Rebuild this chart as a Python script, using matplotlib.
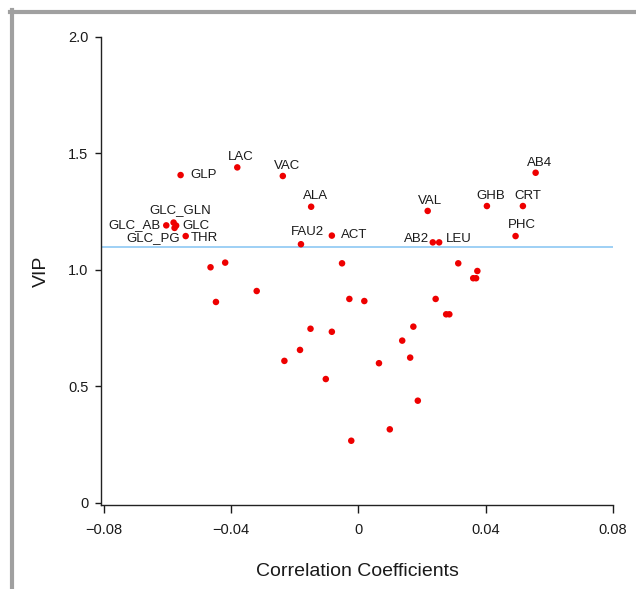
import matplotlib
matplotlib.use("Agg")
import matplotlib.pyplot as plt
from matplotlib.lines import Line2D

plt.rcParams['font.family'] = ['Liberation Sans', 'DejaVu Sans']

# Labeled metabolites
labels = ["GLP", "LAC", "VAC", "ALA", "FAU2", "ACT", "VAL", "AB2", "LEU", "AB4",
          "GHB", "CRT", "PHC", "GLC_AB", "GLC_GLN", "GLC", "GLC_PG", "THR"]
label_corr = [-0.0558, -0.0380, -0.0237, -0.0148, -0.0180, -0.0083, 0.0218, 0.0234, 0.0254, 0.0557,
              0.0404, 0.0517, 0.0494, -0.0603, -0.0580, -0.0572, -0.0577, -0.0542]
label_vip = [1.407, 1.440, 1.403, 1.271, 1.110, 1.147, 1.253, 1.118, 1.118, 1.417,
             1.274, 1.274, 1.145, 1.191, 1.203, 1.190, 1.180, 1.145]

# Unlabeled metabolites
other_corr = [-0.0464, -0.0418, -0.0447, -0.0319, -0.0051, -0.0028, 0.0019, 0.0314, 0.0374,
              0.0361, 0.0370, 0.0243, 0.0276, 0.0286, 0.0173, 0.0138, 0.0163, 0.0065,
              -0.0150, -0.0083, -0.0183, -0.0232, -0.0102, 0.0187, 0.0099, -0.0022]
other_vip = [1.011, 1.031, 0.862, 0.909, 1.028, 0.875, 0.866, 1.028, 0.995,
             0.964, 0.964, 0.875, 0.809, 0.809, 0.756, 0.696, 0.623, 0.599,
             0.747, 0.734, 0.656, 0.609, 0.531, 0.438, 0.315, 0.266]

threshold = 1.1

x_ticks = [-0.08, -0.04, 0, 0.04, 0.08]
x_ticklabels = ["\u22120.08", "\u22120.04", "0", "0.04", "0.08"]
y_ticks = [0, 0.5, 1.0, 1.5, 2.0]
y_ticklabels = ["0", "0.5", "1.0", "1.5", "2.0"]

# label offsets in pixels (dx, dy, ha)
offsets = {
    "GLP": (10, 0, "left"), "LAC": (3, 10, "center"), "VAC": (4, 10, "center"),
    "ALA": (4, 11, "center"), "FAU2": (6, 12, "center"), "ACT": (9, 1, "left"),
    "VAL": (2, 10, "center"), "AB2": (-4, 3, "right"), "LEU": (7, 3, "left"),
    "AB4": (4, 10, "center"), "GHB": (4, 10, "center"), "CRT": (5, 10, "center"),
    "PHC": (6, 11, "center"), "GLC_AB": (-6, 0, "right"), "GLC_GLN": (7, 12.5, "center"),
    "GLC": (6, 0, "left"), "GLC_PG": (5, -10, "right"), "THR": (5, -2, "left"),
}

W, H = 636, 589
fig = plt.figure(figsize=(W / 100, H / 100), dpi=100)
ax = fig.add_axes([101 / W, 1 - 505 / H, (613 - 101) / W, (505 - 37) / H])

ax.axhline(threshold, color="#96cdf5", lw=1.3, zorder=1)
ax.scatter(other_corr, other_vip, s=22, color="#ee0000", edgecolors="none", zorder=3)
ax.scatter(label_corr, label_vip, s=22, color="#ee0000", edgecolors="none", zorder=3)

for name, xv, yv in zip(labels, label_corr, label_vip):
    dx, dy, ha = offsets[name]
    ax.annotate(name, (xv, yv), xytext=(dx, dy), textcoords="offset pixels",
                ha=ha, va="center", fontsize=9.5, color="#1a1a1a")

ax.set_xlim(-0.0808, 0.08)
ax.set_ylim(-0.01, 2.0)
ax.set_xticks(x_ticks)
ax.set_xticklabels(x_ticklabels, fontsize=10.5)
ax.set_yticks(y_ticks)
ax.set_yticklabels(y_ticklabels, fontsize=10.5)
ax.tick_params(axis="x", length=6, width=1, pad=7, colors="#1a1a1a")
ax.tick_params(axis="y", length=4, width=1, pad=5, colors="#1a1a1a")
for s in ["top", "right"]:
    ax.spines[s].set_visible(False)
for s in ["left", "bottom"]:
    ax.spines[s].set_linewidth(1)
    ax.spines[s].set_color("#222222")

ax.set_xlabel("Correlation Coefficients", fontsize=14, labelpad=19, color="#1a1a1a")
ax.set_ylabel("VIP", fontsize=14, labelpad=13, color="#1a1a1a")

# gray frame at left and top
fig.add_artist(Line2D([11.5 / W, 11.5 / W], [0, 1 - 10 / H], transform=fig.transFigure,
                      color="#a0a0a0", lw=3))
fig.add_artist(Line2D([10 / W, 1], [1 - 12 / H, 1 - 12 / H], transform=fig.transFigure,
                      color="#a0a0a0", lw=3))

fig.savefig("out.png", dpi=100)
